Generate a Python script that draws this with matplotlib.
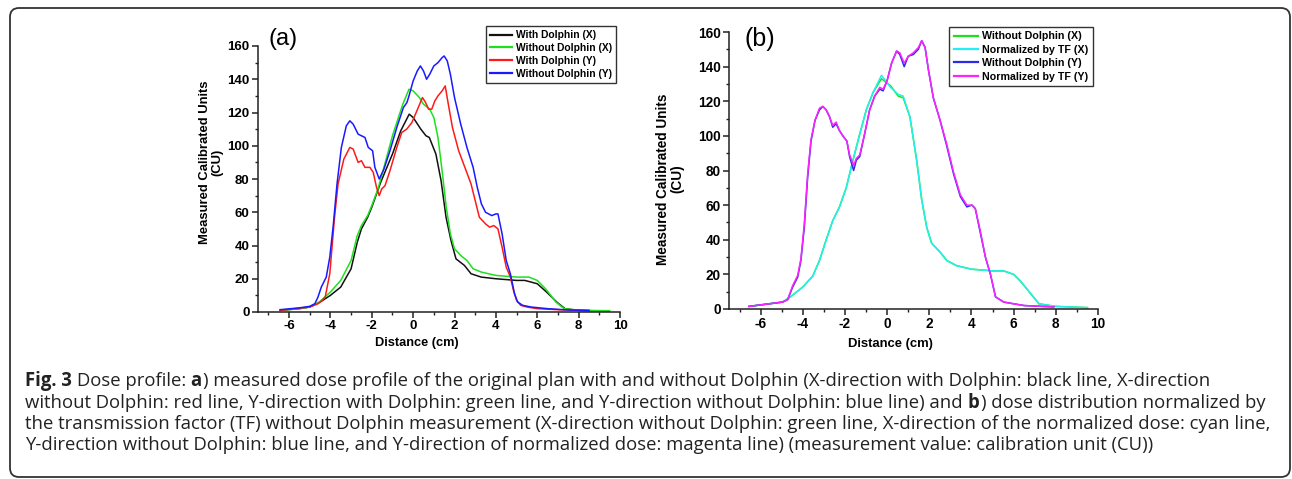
import matplotlib
matplotlib.use("Agg")
import matplotlib.pyplot as plt
from matplotlib.patches import FancyBboxPatch
from matplotlib.transforms import IdentityTransform
from matplotlib.ticker import MultipleLocator
from matplotlib.font_manager import FontProperties

# ---------------- data ----------------
# Panel (a)
a_black_x = [-6.43, -5.5, -5.0, -4.57, -4.0, -3.5, -3.0, -2.7, -2.5, -2.2, -2.0, -1.57, -1.0, -0.6,
             -0.19, 0.0, 0.37, 0.62, 0.78, 1.1, 1.35, 1.59, 1.83, 2.07, 2.48, 2.8, 3.29, 4.0, 5.0,
             5.4, 6.0, 6.45, 6.94, 7.34, 8.0, 9.45]
a_black_y = [1, 2, 3, 5.4, 10, 15, 26, 42, 50, 57, 63, 78, 95, 109,
             119, 117, 110, 106, 105, 95, 79, 57, 43, 32, 28, 23, 21, 20, 19,
             19, 17, 12, 6, 2, 1, 0.5]

a_green_x = [-6.43, -5.5, -5.0, -4.5, -4.0, -3.5, -3.0, -2.7, -2.5, -2.2, -2.0, -1.7, -1.5, -1.0,
             -0.5, -0.2, 0.0, 0.3, 0.5, 0.8, 1.0, 1.2, 1.4, 1.6, 1.8, 2.0, 2.3, 2.6, 2.9, 3.3,
             4.0, 5.0, 5.6, 6.0, 6.4, 6.9, 7.3, 8.0, 9.5]
a_green_y = [1, 2, 3, 6.4, 12, 19, 31, 46, 52, 58, 64, 74, 83, 106,
             125, 134, 133, 129, 125, 122, 117, 105, 85, 63, 47, 38, 34, 31, 26, 24,
             22, 21, 21, 19, 14, 6, 2, 1, 0.8]

a_red_x = [-6.43, -5.0, -4.6, -4.4, -4.25, -4.03, -3.8, -3.63, -3.35, -3.06, -2.9, -2.66, -2.5,
           -2.33, -2.09, -1.93, -1.77, -1.64, -1.52, -1.36, -1.12, -0.79, -0.55, -0.31, -0.06,
           0.18, 0.45, 0.6, 0.75, 0.9, 1.05, 1.2, 1.4, 1.55, 1.7, 1.9, 2.2, 2.5, 2.8, 3.0, 3.2,
           3.5, 3.7, 3.9, 4.1, 4.3, 4.5, 4.7, 4.85, 5.0, 5.2, 5.5, 6.0, 7.0, 8.0, 8.5]
a_red_y = [1, 3, 5, 7, 9, 23, 57, 77, 92, 99, 98, 90, 91,
           87, 87, 84, 75, 70, 74, 76, 85, 99, 108, 110, 114,
           121, 129, 126, 122, 122, 127, 130, 133, 136, 125, 111, 97, 87, 77, 67, 57,
           53, 51, 52, 50, 39, 27, 21, 13, 7, 4, 3, 2, 1.4, 1, 0.8]

a_blue_x = [-6.43, -5.5, -5.0, -4.75, -4.6, -4.44, -4.2, -4.03, -3.87, -3.68, -3.47, -3.23, -3.06,
            -2.9, -2.66, -2.5, -2.33, -2.17, -1.96, -1.85, -1.64, -1.41, -1.12, -0.79, -0.47,
            -0.3, -0.2, 0.0, 0.2, 0.35, 0.5, 0.65, 0.8, 1.0, 1.2, 1.4, 1.5, 1.65, 1.8, 2.0, 2.3,
            2.6, 2.9, 3.1, 3.3, 3.5, 3.8, 4.0, 4.1, 4.3, 4.5, 4.7, 4.9, 5.05, 5.3, 5.7, 6.5,
            7.5, 8.5]
a_blue_y = [1.4, 2.5, 3.4, 5, 9, 15, 21, 33, 51, 77, 99, 112, 115,
            113, 107, 106, 105, 99, 97, 87, 80, 86, 97, 111, 123,
            126, 130, 139, 145, 148, 145, 140, 143, 148, 150, 153, 154, 151, 143, 129, 113,
            99, 87, 75, 65, 60, 58, 59, 59, 47, 31, 23, 11, 6, 4, 3, 2,
            1.2, 1]

# Panel (b)
b_x_dir_x = [-6.55, -4.96, -4.64, -4.0, -3.53, -3.21, -2.89, -2.58, -2.26, -1.94, -1.62, -1.3,
             -0.99, -0.67, -0.27, 0.16, 0.52, 0.76, 1.08, 1.4, 1.64, 1.88, 2.11, 2.5, 2.83, 3.3,
             4.0, 5.05, 5.53, 6.0, 6.33, 6.8, 7.2, 8.0, 9.5]
b_green_y = [1.5, 4, 6.5, 12.7, 19, 28, 40, 51, 59, 70, 86, 101,
             115, 125, 133, 129, 123, 122, 111, 86, 63, 47, 38, 33, 28, 25,
             23, 22, 22, 20, 16, 9, 3, 1.5, 0.8]
b_cyan_y = [1.5, 4, 6.5, 12.7, 19, 28, 40, 51, 59, 70, 86, 101,
            115, 125, 135, 128, 124, 123, 111, 86, 63, 47, 38, 33, 28, 25,
            23, 22, 22, 20, 16, 9, 3, 1.5, 0.8]

b_y_dir_x = [-6.55, -4.96, -4.72, -4.48, -4.24, -4.09, -3.93, -3.77, -3.61, -3.42, -3.21, -3.05,
             -2.89, -2.73, -2.58, -2.42, -2.26, -2.1, -1.91, -1.78, -1.59, -1.46, -1.3, -1.07,
             -0.83, -0.59, -0.35, -0.19, 0.0, 0.21, 0.45, 0.6, 0.81, 1.0, 1.24, 1.48, 1.64, 1.8,
             1.96, 2.19, 2.51, 2.83, 3.15, 3.47, 3.78, 4.02, 4.18, 4.42, 4.66, 4.9, 5.14, 5.53,
             6.49, 7.9]
b_blue_y = [1.5, 4, 5.4, 12.7, 18.5, 28, 47, 76, 97, 109, 115, 117,
            115, 111, 105, 107, 103, 100, 97, 88, 80, 86, 88, 101,
            115, 123, 127, 126, 132, 142, 149, 147, 140, 146, 147, 150, 155, 151,
            138, 122, 109, 94, 78, 65, 59, 60, 58, 44, 30, 20, 7, 4,
            2, 1.2]
b_magenta_y = [1.5, 4, 5.4, 13.5, 19.5, 29, 49, 78, 98, 109, 116, 117,
               115, 111, 106, 108, 103, 100, 97, 89, 83, 87, 89, 101,
               115, 123, 128, 127, 132, 142, 149, 148, 142, 146, 148, 151, 155, 151,
               138, 122, 109, 95, 79, 66, 60, 60, 58, 45, 30, 20, 7, 4,
               2, 1.2]

x_ticks = [-6, -4, -2, 0, 2, 4, 6, 8, 10]
y_ticks = [0, 20, 40, 60, 80, 100, 120, 140, 160]

legend_a = ["With Dolphin (X)", "Without Dolphin (X)", "With Dolphin (Y)", "Without Dolphin (Y)"]
legend_b = ["Without Dolphin (X)", "Normalized by TF (X)", "Without Dolphin (Y)", "Normalized by TF (Y)"]

y_label = "Measured Calibrated Units\n(CU)"
x_label = "Distance (cm)"

# caption: each line is a list of (text, bold, space_before)
caption_lines = [
    [("Fig. 3", True, False), ("Dose profile:", False, True), ("a", True, True),
     (") measured dose profile of the original plan with and without Dolphin (X-direction with Dolphin: black line, X-direction", False, False)],
    [("without Dolphin: red line, Y-direction with Dolphin: green line, and Y-direction without Dolphin: blue line) and", False, False),
     ("b", True, True), (") dose distribution normalized by", False, False)],
    [("the transmission factor (TF) without Dolphin measurement (X-direction without Dolphin: green line, X-direction of the normalized dose: cyan line,", False, False)],
    [("Y-direction without Dolphin: blue line, and Y-direction of normalized dose: magenta line) (measurement value: calibration unit (CU))", False, False)],
]

# ---------------- figure ----------------
W, H = 1292, 479
fig = plt.figure(figsize=(W / 100, H / 100), dpi=100)
fig.patch.set_facecolor("white")


def fx(px):
    return px / W


def fy(py):
    return 1 - py / H


TICKFONT = "Liberation Sans"

axA = fig.add_axes([fx(258), fy(312), fx(620) - fx(258), fy(46) - fy(312)])
axB = fig.add_axes([fx(729), fy(309), fx(1098) - fx(729), fy(32) - fy(309)])


def style(ax, fsize):
    for s in ("top", "right"):
        ax.spines[s].set_visible(False)
    for s in ("left", "bottom"):
        ax.spines[s].set_linewidth(1.1)
        ax.spines[s].set_color("#222222")
    ax.set_xlim(-7.5, 10)
    ax.set_ylim(0, 160)
    ax.set_xticks(x_ticks, [str(v) for v in x_ticks], fontsize=fsize,
                  fontweight="bold", family=TICKFONT)
    ax.set_yticks(y_ticks, [str(v) for v in y_ticks], fontsize=fsize,
                  fontweight="bold", family=TICKFONT)
    ax.xaxis.set_minor_locator(MultipleLocator(1))
    ax.yaxis.set_minor_locator(MultipleLocator(10))
    ax.tick_params(which="major", direction="out", length=4, width=1.1,
                   color="#222222", pad=2)
    ax.tick_params(which="minor", direction="out", length=2.5, width=1.0,
                   color="#222222")
    ax.set_facecolor("none")


LW = 1.1
# Panel (a)
axA.plot(a_black_x, a_black_y, color="#111111", lw=LW, label=legend_a[0])
axA.plot(a_green_x, a_green_y, color="#1ee01e", lw=LW, label=legend_a[1])
axA.plot(a_red_x, a_red_y, color="#ff1a1a", lw=LW, label=legend_a[2])
axA.plot(a_blue_x, a_blue_y, color="#1a1aff", lw=LW, label=legend_a[3])
style(axA, 9.5)

# Panel (b)
axB.plot(b_x_dir_x, b_green_y, color="#1ee01e", lw=LW, label=legend_b[0])
axB.plot(b_x_dir_x, b_cyan_y, color="#22f0f0", lw=LW, label=legend_b[1])
axB.plot(b_y_dir_x, b_blue_y, color="#2a2ae8", lw=LW, label=legend_b[2])
axB.plot(b_y_dir_x, b_magenta_y, color="#ff22ff", lw=LW, label=legend_b[3])
style(axB, 9.8)

leg_common = dict(loc="upper right", bbox_transform=fig.transFigure, borderaxespad=0,
                  fancybox=False, framealpha=1, edgecolor="#333333",
                  handletextpad=0.4, borderpad=0.4)
lgA = axA.legend(bbox_to_anchor=(fx(616), fy(26)), handlelength=2.1, labelspacing=0.28,
                 prop=dict(family=TICKFONT, weight="bold", size=7.4), **leg_common)
lgB = axB.legend(bbox_to_anchor=(fx(1093), fy(27)), handlelength=2.3, labelspacing=0.32,
                 prop=dict(family=TICKFONT, weight="bold", size=7.7), **leg_common)
for lg in (lgA, lgB):
    lg.get_frame().set_linewidth(1.0)
    for l in lg.get_lines():
        l.set_linewidth(1.6)

# panel labels
fig.text(fx(269), fy(39), "(a)", fontsize=17, family=TICKFONT, ha="left", va="center")
fig.text(fx(745), fy(39), "(b)", fontsize=18, family=TICKFONT, ha="left", va="center")

# axis labels
fig.text(fx(211), fy(162), y_label, rotation=90, ha="center", va="center",
         multialignment="center", fontsize=9.4, fontweight="bold", family=TICKFONT,
         linespacing=1.05)
fig.text(fx(670), fy(179), y_label, rotation=90, ha="center", va="center",
         multialignment="center", fontsize=9.8, fontweight="bold", family=TICKFONT,
         linespacing=1.05)
fig.text(fx(417), fy(343), x_label, ha="center", va="center", fontsize=9.2,
         fontweight="bold", family=TICKFONT)
fig.text(fx(890), fy(344), x_label, ha="center", va="center", fontsize=9.4,
         fontweight="bold", family=TICKFONT)

# caption: size fitted so that the third line spans the caption width
renderer = fig.canvas.get_renderer()
CAPFONT = "Open Sans"
CAPCOLOR = "#222222"
p10 = FontProperties(family=CAPFONT, size=10)
w3, _, _ = renderer.get_text_width_height_descent(caption_lines[2][0][0], p10, ismath=False)
cap_size = 10 * (1273 - 25) / w3
p_reg = FontProperties(family=CAPFONT, size=cap_size)
p_bold = FontProperties(family=CAPFONT, size=cap_size, weight="bold")
w_sp1, _, _ = renderer.get_text_width_height_descent("a a", p_reg, ismath=False)
w_sp0, _, _ = renderer.get_text_width_height_descent("aa", p_reg, ismath=False)
space_w = w_sp1 - w_sp0
join_gap = 0.08 * cap_size * 100 / 72

baselines = [386, 407.5, 429, 450.5]
for segs, base in zip(caption_lines, baselines):
    x = 25
    for i, (txt, bold, sp) in enumerate(segs):
        if i > 0:
            x += space_w if sp else join_gap
        p = p_bold if bold else p_reg
        fig.text(fx(x), fy(base), txt, fontproperties=p, color=CAPCOLOR,
                 ha="left", va="baseline")
        w, _, _ = renderer.get_text_width_height_descent(txt, p, ismath=False)
        x += w

# rounded frame around the figure
frame = FancyBboxPatch((10, H - 477), 1280, 469,
                       boxstyle="round,pad=0,rounding_size=9",
                       transform=IdentityTransform(), fill=False,
                       edgecolor="#333333", linewidth=1.3)
fig.patches.append(frame)

fig.savefig("out.png", dpi=100, facecolor="white")
